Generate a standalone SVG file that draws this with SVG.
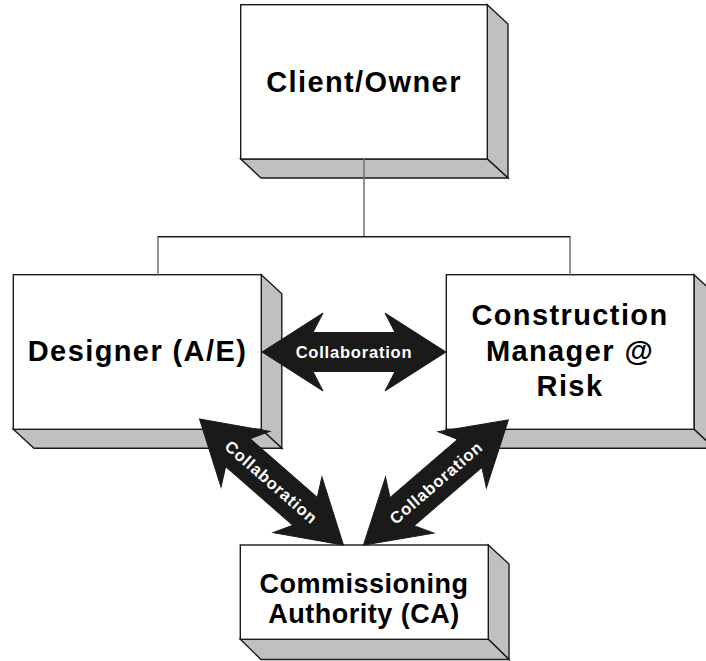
<svg xmlns="http://www.w3.org/2000/svg" width="706" height="661" viewBox="0 0 706 661">
<style>
.front{fill:#fff;stroke:#1a1a1a;stroke-width:1.4}
.side{fill:#c0c0c0;stroke:#1a1a1a;stroke-width:1.4;stroke-linejoin:miter}
.lbl{font-family:"Liberation Sans",Arial,sans-serif;font-weight:bold;font-size:29px;fill:#000;text-anchor:middle;letter-spacing:1.4px}
.lbl2{font-family:"Liberation Sans",Arial,sans-serif;font-weight:bold;font-size:27px;fill:#000;text-anchor:middle;letter-spacing:0.5px}
.arr{fill:#1a1a1a;stroke:#1a1a1a;stroke-width:1;stroke-linejoin:miter}
.atx{font-family:"Liberation Sans",Arial,sans-serif;font-weight:bold;font-size:16.5px;fill:#fff;text-anchor:middle;letter-spacing:0.8px}
.vline{stroke:#707070;stroke-width:1.5;fill:none}
.hline{stroke:#1a1a1a;stroke-width:1.5;fill:none}
</style>
<rect width="706" height="661" fill="#fff"/>
<g id="client">
<polygon class="side" points="487.3,4.7 508,24 508,178 487.3,159"/>
<polygon class="side" points="240.7,159 261,178 508,178 487.3,159"/>
<rect class="front" x="240.7" y="4.7" width="246.6" height="154.3"/>
<text class="lbl" x="364" y="91.7">Client/Owner</text>
</g>
<g id="designer">
<polygon class="side" points="261.3,274.7 281.8,293.7 281.8,448.3 261.3,429.3"/>
<polygon class="side" points="13.3,429.3 34,448.3 281.8,448.3 261.3,429.3"/>
<rect class="front" x="13.3" y="274.7" width="248" height="154.6"/>
<text class="lbl" x="137.5" y="360.7">Designer (A/E)</text>
</g>
<g id="cm">
<polygon class="side" points="694,274.7 714.5,293.7 714.5,448.3 694,429.3"/>
<polygon class="side" points="446.3,429.3 467,448.3 714.5,448.3 694,429.3"/>
<rect class="front" x="446.3" y="274.7" width="247.7" height="154.6"/>
<text class="lbl" x="570" y="325">Construction</text>
<text class="lbl" x="570" y="360.5">Manager @</text>
<text class="lbl" x="570" y="396">Risk</text>
</g>
<g id="ca">
<polygon class="side" points="488.3,545 509,564 509,659.5 488.3,639.3"/>
<polygon class="side" points="240.3,639.3 261,659.5 509,659.5 488.3,639.3"/>
<rect class="front" x="240.3" y="545" width="248" height="94.3"/>
<text class="lbl2" x="364" y="592.7">Commissioning</text>
<text class="lbl2" x="364" y="622.7">Authority (CA)</text>
</g>
<g id="connectors">
<line class="vline" x1="364" y1="159" x2="364" y2="236.7"/>
<line class="hline" x1="157.5" y1="236.7" x2="570.5" y2="236.7"/>
<line class="vline" x1="158" y1="236.7" x2="158" y2="274.7"/>
<line class="vline" x1="570" y1="236.7" x2="570" y2="274.7"/>
<g id="arrow-h">
<polygon class="arr" points="262,352 323,313 313,332.5 395,332.5 385,313 446,352 385,391 395,371.5 313,371.5 323,391"/>
<text class="atx" x="354" y="358">Collaboration</text>
</g>
<g id="arrow-l" transform="translate(199.5,419) rotate(41.2)">
<polygon class="arr" points="0,0 61,-37 51,-18.5 140.3,-18.5 130.3,-37 191.3,0 130.3,37 140.3,18.5 51,18.5 61,37"/>
<text class="atx" x="95.6" y="6">Collaboration</text>
</g>
<g id="arrow-r" transform="translate(363.5,545) rotate(-40.8)">
<polygon class="arr" points="0,0 61,-37 51,-18.5 140.4,-18.5 130.4,-37 191.4,0 130.4,37 140.4,18.5 51,18.5 61,37"/>
<text class="atx" x="95.7" y="6">Collaboration</text>
</g>
</g>
</svg>
